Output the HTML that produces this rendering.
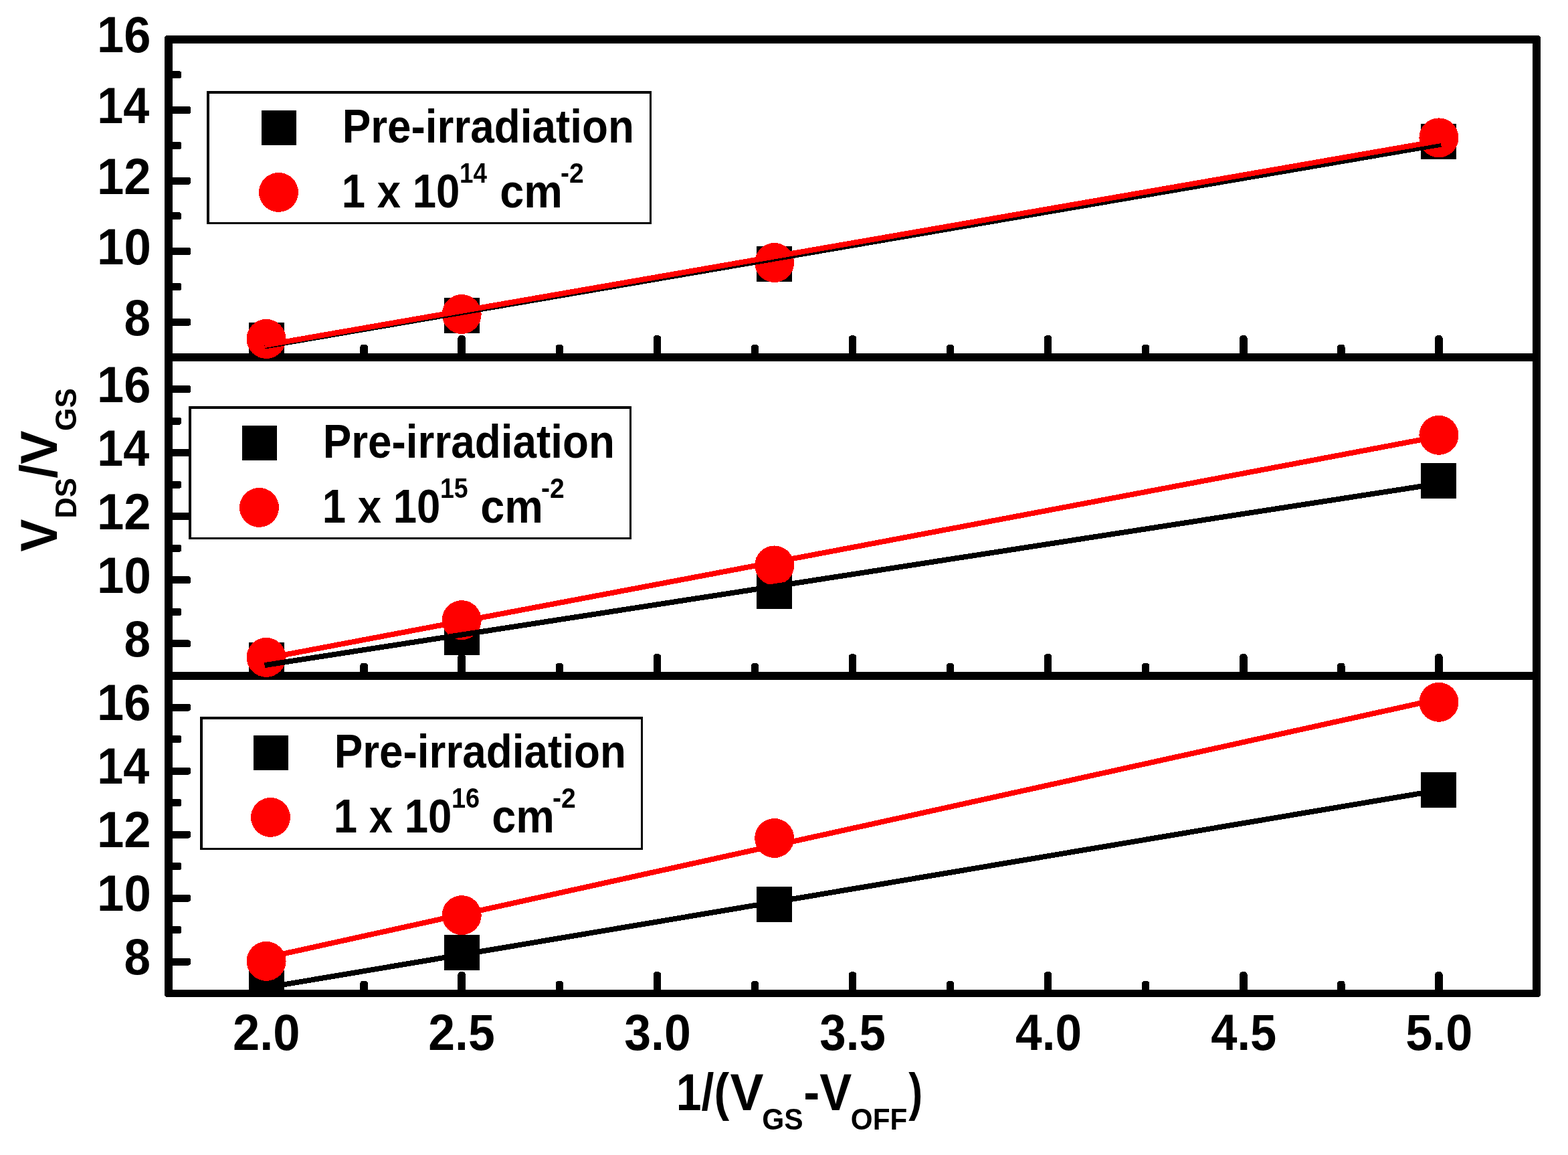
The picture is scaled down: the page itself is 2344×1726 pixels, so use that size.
<!DOCTYPE html>
<html><head><meta charset="utf-8"><title>VDS/VGS vs 1/(VGS-VOFF)</title>
<style>html,body{margin:0;padding:0;background:#fff;}svg{display:block;}text{font-kerning:none;}</style>
</head><body>
<svg width="2344" height="1726" viewBox="0 0 2344 1726" shape-rendering="crispEdges">
<rect width="100%" height="100%" fill="#fff"/>
<defs>
<clipPath id="c0"><rect x="246" y="53" width="2057" height="487"/></clipPath>
<clipPath id="c1"><rect x="246" y="528" width="2057" height="487.5"/></clipPath>
<clipPath id="c2"><rect x="246" y="1004" width="2057" height="486"/></clipPath>
</defs>
<g fill="#000">
<rect x="250" y="475.72" width="35.00" height="11.0" rx="3"/>
<rect x="250" y="422.94" width="21.00" height="11.0" rx="3"/>
<rect x="250" y="370.17" width="35.00" height="11.0" rx="3"/>
<rect x="250" y="317.39" width="21.00" height="11.0" rx="3"/>
<rect x="250" y="264.61" width="35.00" height="11.0" rx="3"/>
<rect x="250" y="211.83" width="21.00" height="11.0" rx="3"/>
<rect x="250" y="159.06" width="35.00" height="11.0" rx="3"/>
<rect x="250" y="106.28" width="21.00" height="11.0" rx="3"/>
<rect x="392.32" y="501.00" width="11.5" height="33.00" rx="5" ry="4.5"/>
<rect x="538.39" y="514.50" width="11.5" height="19.50" rx="5" ry="4.5"/>
<rect x="684.46" y="501.00" width="11.5" height="33.00" rx="5" ry="4.5"/>
<rect x="830.54" y="514.50" width="11.5" height="19.50" rx="5" ry="4.5"/>
<rect x="976.61" y="501.00" width="11.5" height="33.00" rx="5" ry="4.5"/>
<rect x="1122.68" y="514.50" width="11.5" height="19.50" rx="5" ry="4.5"/>
<rect x="1268.75" y="501.00" width="11.5" height="33.00" rx="5" ry="4.5"/>
<rect x="1414.82" y="514.50" width="11.5" height="19.50" rx="5" ry="4.5"/>
<rect x="1560.89" y="501.00" width="11.5" height="33.00" rx="5" ry="4.5"/>
<rect x="1706.96" y="514.50" width="11.5" height="19.50" rx="5" ry="4.5"/>
<rect x="1853.04" y="501.00" width="11.5" height="33.00" rx="5" ry="4.5"/>
<rect x="1999.11" y="514.50" width="11.5" height="19.50" rx="5" ry="4.5"/>
<rect x="2145.18" y="501.00" width="11.5" height="33.00" rx="5" ry="4.5"/>
<rect x="250" y="956.45" width="35.00" height="11.0" rx="3"/>
<rect x="250" y="908.90" width="21.00" height="11.0" rx="3"/>
<rect x="250" y="861.35" width="35.00" height="11.0" rx="3"/>
<rect x="250" y="813.80" width="21.00" height="11.0" rx="3"/>
<rect x="250" y="766.25" width="35.00" height="11.0" rx="3"/>
<rect x="250" y="718.70" width="21.00" height="11.0" rx="3"/>
<rect x="250" y="671.15" width="35.00" height="11.0" rx="3"/>
<rect x="250" y="623.60" width="21.00" height="11.0" rx="3"/>
<rect x="250" y="576.05" width="35.00" height="11.0" rx="3"/>
<rect x="392.32" y="977.00" width="11.5" height="33.00" rx="5" ry="4.5"/>
<rect x="538.39" y="990.50" width="11.5" height="19.50" rx="5" ry="4.5"/>
<rect x="684.46" y="977.00" width="11.5" height="33.00" rx="5" ry="4.5"/>
<rect x="830.54" y="990.50" width="11.5" height="19.50" rx="5" ry="4.5"/>
<rect x="976.61" y="977.00" width="11.5" height="33.00" rx="5" ry="4.5"/>
<rect x="1122.68" y="990.50" width="11.5" height="19.50" rx="5" ry="4.5"/>
<rect x="1268.75" y="977.00" width="11.5" height="33.00" rx="5" ry="4.5"/>
<rect x="1414.82" y="990.50" width="11.5" height="19.50" rx="5" ry="4.5"/>
<rect x="1560.89" y="977.00" width="11.5" height="33.00" rx="5" ry="4.5"/>
<rect x="1706.96" y="990.50" width="11.5" height="19.50" rx="5" ry="4.5"/>
<rect x="1853.04" y="977.00" width="11.5" height="33.00" rx="5" ry="4.5"/>
<rect x="1999.11" y="990.50" width="11.5" height="19.50" rx="5" ry="4.5"/>
<rect x="2145.18" y="977.00" width="11.5" height="33.00" rx="5" ry="4.5"/>
<rect x="250" y="1431.50" width="35.00" height="11.0" rx="3"/>
<rect x="250" y="1384.00" width="21.00" height="11.0" rx="3"/>
<rect x="250" y="1336.50" width="35.00" height="11.0" rx="3"/>
<rect x="250" y="1289.00" width="21.00" height="11.0" rx="3"/>
<rect x="250" y="1241.50" width="35.00" height="11.0" rx="3"/>
<rect x="250" y="1194.00" width="21.00" height="11.0" rx="3"/>
<rect x="250" y="1146.50" width="35.00" height="11.0" rx="3"/>
<rect x="250" y="1099.00" width="21.00" height="11.0" rx="3"/>
<rect x="250" y="1051.50" width="35.00" height="11.0" rx="3"/>
<rect x="392.32" y="1452.00" width="11.5" height="33.00" rx="5" ry="4.5"/>
<rect x="538.39" y="1465.50" width="11.5" height="19.50" rx="5" ry="4.5"/>
<rect x="684.46" y="1452.00" width="11.5" height="33.00" rx="5" ry="4.5"/>
<rect x="830.54" y="1465.50" width="11.5" height="19.50" rx="5" ry="4.5"/>
<rect x="976.61" y="1452.00" width="11.5" height="33.00" rx="5" ry="4.5"/>
<rect x="1122.68" y="1465.50" width="11.5" height="19.50" rx="5" ry="4.5"/>
<rect x="1268.75" y="1452.00" width="11.5" height="33.00" rx="5" ry="4.5"/>
<rect x="1414.82" y="1465.50" width="11.5" height="19.50" rx="5" ry="4.5"/>
<rect x="1560.89" y="1452.00" width="11.5" height="33.00" rx="5" ry="4.5"/>
<rect x="1706.96" y="1465.50" width="11.5" height="19.50" rx="5" ry="4.5"/>
<rect x="1853.04" y="1452.00" width="11.5" height="33.00" rx="5" ry="4.5"/>
<rect x="1999.11" y="1465.50" width="11.5" height="19.50" rx="5" ry="4.5"/>
<rect x="2145.18" y="1452.00" width="11.5" height="33.00" rx="5" ry="4.5"/>
</g>
<g fill="#000">
<rect x="246" y="53" width="12" height="1437" rx="4"/>
<rect x="2291" y="53" width="12" height="1437" rx="4"/>
<rect x="246" y="53" width="2057" height="12" rx="4"/>
<rect x="246" y="528" width="2057" height="12"/>
<rect x="246" y="1004" width="2057" height="11.5"/>
<rect x="246" y="1479" width="2057" height="11" rx="4"/>
</g>
<g clip-path="url(#c0)">
<rect x="371.57" y="481.90" width="53.0" height="53.0" fill="#000"/>
<rect x="663.71" y="445.38" width="53.0" height="53.0" fill="#000"/>
<rect x="1131.14" y="368.48" width="53.0" height="53.0" fill="#000"/>
<rect x="2124.43" y="185.40" width="53.0" height="53.0" fill="#000"/>
<circle cx="398.07" cy="506.45" r="29.5" fill="#f00"/>
<circle cx="690.21" cy="469.51" r="29.5" fill="#f00"/>
<circle cx="1157.64" cy="392.50" r="29.5" fill="#f00"/>
<circle cx="2150.93" cy="205.88" r="29.5" fill="#f00"/>
<line x1="395.56" y1="517.57" x2="2154.14" y2="215.72" stroke="#000" stroke-width="8.0"/>
<line x1="395.56" y1="516.00" x2="2154.14" y2="210.05" stroke="#f00" stroke-width="8.0"/>
</g>
<g clip-path="url(#c1)">
<rect x="371.57" y="959.99" width="53.0" height="53.0" fill="#000"/>
<rect x="663.71" y="925.80" width="53.0" height="53.0" fill="#000"/>
<rect x="1131.14" y="856.99" width="53.0" height="53.0" fill="#000"/>
<rect x="2124.43" y="692.42" width="53.0" height="53.0" fill="#000"/>
<circle cx="398.07" cy="982.40" r="29.5" fill="#f00"/>
<circle cx="690.21" cy="926.62" r="29.5" fill="#f00"/>
<circle cx="1157.64" cy="844.98" r="29.5" fill="#f00"/>
<circle cx="2150.93" cy="650.31" r="29.5" fill="#f00"/>
<line x1="395.56" y1="994.10" x2="2154.14" y2="722.18" stroke="#000" stroke-width="8.0"/>
<line x1="395.56" y1="984.17" x2="2154.14" y2="651.54" stroke="#f00" stroke-width="8.0"/>
</g>
<g clip-path="url(#c2)">
<rect x="371.57" y="1449.92" width="53.0" height="53.0" fill="#000"/>
<rect x="663.71" y="1396.91" width="53.0" height="53.0" fill="#000"/>
<rect x="1131.14" y="1325.00" width="53.0" height="53.0" fill="#000"/>
<rect x="2124.43" y="1153.53" width="53.0" height="53.0" fill="#000"/>
<circle cx="398.07" cy="1436.38" r="29.5" fill="#f00"/>
<circle cx="690.21" cy="1367.60" r="29.5" fill="#f00"/>
<circle cx="1157.64" cy="1252.51" r="29.5" fill="#f00"/>
<circle cx="2150.93" cy="1049.31" r="29.5" fill="#f00"/>
<line x1="395.56" y1="1476.16" x2="2154.14" y2="1180.46" stroke="#000" stroke-width="8.0"/>
<line x1="395.56" y1="1431.52" x2="2154.14" y2="1043.97" stroke="#f00" stroke-width="8.0"/>
</g>
<g style="font-family:'Liberation Sans',Arial,sans-serif;font-weight:bold;" fill="#000">
<text x="185.44" y="500.62" font-size="75.4" textLength="39.54" lengthAdjust="spacingAndGlyphs">8</text>
<text x="145.03" y="395.07" font-size="75.4" textLength="80.75" lengthAdjust="spacingAndGlyphs">10</text>
<text x="145.03" y="289.51" font-size="75.4" textLength="80.67" lengthAdjust="spacingAndGlyphs">12</text>
<text x="145.18" y="183.96" font-size="75.4" textLength="77.99" lengthAdjust="spacingAndGlyphs">14</text>
<text x="145.05" y="78.40" font-size="75.4" textLength="80.36" lengthAdjust="spacingAndGlyphs">16</text>
<text x="185.44" y="981.35" font-size="75.4" textLength="39.54" lengthAdjust="spacingAndGlyphs">8</text>
<text x="145.03" y="886.25" font-size="75.4" textLength="80.75" lengthAdjust="spacingAndGlyphs">10</text>
<text x="145.03" y="791.15" font-size="75.4" textLength="80.67" lengthAdjust="spacingAndGlyphs">12</text>
<text x="145.18" y="696.05" font-size="75.4" textLength="77.99" lengthAdjust="spacingAndGlyphs">14</text>
<text x="145.05" y="600.95" font-size="75.4" textLength="80.36" lengthAdjust="spacingAndGlyphs">16</text>
<text x="185.44" y="1456.40" font-size="75.4" textLength="39.54" lengthAdjust="spacingAndGlyphs">8</text>
<text x="145.03" y="1361.40" font-size="75.4" textLength="80.75" lengthAdjust="spacingAndGlyphs">10</text>
<text x="145.03" y="1266.40" font-size="75.4" textLength="80.67" lengthAdjust="spacingAndGlyphs">12</text>
<text x="145.18" y="1171.40" font-size="75.4" textLength="77.99" lengthAdjust="spacingAndGlyphs">14</text>
<text x="145.05" y="1076.40" font-size="75.4" textLength="80.36" lengthAdjust="spacingAndGlyphs">16</text>
<text x="348.07" y="1568.70" font-size="75.4" textLength="100.47" lengthAdjust="spacingAndGlyphs">2.0</text>
<text x="640.23" y="1568.70" font-size="75.4" textLength="99.47" lengthAdjust="spacingAndGlyphs">2.5</text>
<text x="933.21" y="1568.70" font-size="75.4" textLength="99.58" lengthAdjust="spacingAndGlyphs">3.0</text>
<text x="1225.37" y="1568.70" font-size="75.4" textLength="98.60" lengthAdjust="spacingAndGlyphs">3.5</text>
<text x="1518.06" y="1568.70" font-size="75.4" textLength="99.00" lengthAdjust="spacingAndGlyphs">4.0</text>
<text x="1810.22" y="1568.70" font-size="75.4" textLength="98.03" lengthAdjust="spacingAndGlyphs">4.5</text>
<text x="2101.21" y="1568.70" font-size="75.4" textLength="100.17" lengthAdjust="spacingAndGlyphs">5.0</text>
</g>
<g style="font-family:'Liberation Sans',Arial,sans-serif;font-weight:bold;" fill="#000">
<rect x="310.75" y="137.75" width="661.5" height="195.5" fill="#fff" stroke="#000" stroke-width="3.5"/>
<rect x="391.0" y="165.0" width="52" height="52" fill="#000"/>
<circle cx="416.5" cy="287.4" r="29.5" fill="#f00"/>
<text x="511.63" y="212.90" font-size="69.6" textLength="436.33" lengthAdjust="spacingAndGlyphs">Pre-irradiation</text>
<text x="510.80" y="309.90" font-size="69.6" textLength="176.61" lengthAdjust="spacingAndGlyphs">1 x 10</text>
<text x="686.98" y="273.10" font-size="42.6" textLength="40.91" lengthAdjust="spacingAndGlyphs">14</text>
<text x="747.17" y="309.90" font-size="69.6" textLength="93.76" lengthAdjust="spacingAndGlyphs">cm</text>
<text x="837.98" y="273.10" font-size="42.6" textLength="34.69" lengthAdjust="spacingAndGlyphs">-2</text>
<rect x="283.75" y="608.75" width="658.5" height="195.5" fill="#fff" stroke="#000" stroke-width="3.5"/>
<rect x="362.0" y="636.0" width="52" height="52" fill="#000"/>
<circle cx="387.5" cy="758.4" r="29.5" fill="#f00"/>
<text x="482.63" y="683.90" font-size="69.6" textLength="436.33" lengthAdjust="spacingAndGlyphs">Pre-irradiation</text>
<text x="481.80" y="780.90" font-size="69.6" textLength="176.61" lengthAdjust="spacingAndGlyphs">1 x 10</text>
<text x="657.93" y="744.10" font-size="42.6" textLength="41.81" lengthAdjust="spacingAndGlyphs">15</text>
<text x="718.17" y="780.90" font-size="69.6" textLength="93.76" lengthAdjust="spacingAndGlyphs">cm</text>
<text x="808.98" y="744.10" font-size="42.6" textLength="34.69" lengthAdjust="spacingAndGlyphs">-2</text>
<rect x="300.75" y="1072.75" width="658.5" height="195.5" fill="#fff" stroke="#000" stroke-width="3.5"/>
<rect x="379.0" y="1099.0" width="52" height="52" fill="#000"/>
<circle cx="404.5" cy="1221.4" r="29.5" fill="#f00"/>
<text x="499.63" y="1146.90" font-size="69.6" textLength="436.33" lengthAdjust="spacingAndGlyphs">Pre-irradiation</text>
<text x="498.80" y="1243.90" font-size="69.6" textLength="176.61" lengthAdjust="spacingAndGlyphs">1 x 10</text>
<text x="674.91" y="1207.10" font-size="42.6" textLength="42.16" lengthAdjust="spacingAndGlyphs">16</text>
<text x="735.17" y="1243.90" font-size="69.6" textLength="93.76" lengthAdjust="spacingAndGlyphs">cm</text>
<text x="825.98" y="1207.10" font-size="42.6" textLength="34.69" lengthAdjust="spacingAndGlyphs">-2</text>
</g>
<g style="font-family:'Liberation Sans',Arial,sans-serif;font-weight:bold;" fill="#000">
<text x="1010.72" y="1658.90" font-size="77" textLength="79.35" lengthAdjust="spacingAndGlyphs">1/(</text>
<text x="1091.49" y="1658.90" font-size="77" textLength="50.03" lengthAdjust="spacingAndGlyphs">V</text>
<text x="1139.26" y="1687.60" font-size="45" textLength="61.40" lengthAdjust="spacingAndGlyphs">GS</text>
<text x="1201.19" y="1658.90" font-size="77" textLength="72.00" lengthAdjust="spacingAndGlyphs">-V</text>
<text x="1271.87" y="1687.60" font-size="45" textLength="84.38" lengthAdjust="spacingAndGlyphs">OFF</text>
<text x="1358.24" y="1658.90" font-size="77" textLength="21.00" lengthAdjust="spacingAndGlyphs">)</text>
<g transform="rotate(-90)">
<text x="-824.50" y="85.00" font-size="77" textLength="48.70" lengthAdjust="spacingAndGlyphs">V</text>
<text x="-774.72" y="113.60" font-size="45" textLength="60.62" lengthAdjust="spacingAndGlyphs">DS</text>
<text x="-714.74" y="85.00" font-size="77" textLength="71.25" lengthAdjust="spacingAndGlyphs">/V</text>
<text x="-644.02" y="113.60" font-size="45" textLength="63.94" lengthAdjust="spacingAndGlyphs">GS</text>
</g>
</g>
</svg>
</body></html>
